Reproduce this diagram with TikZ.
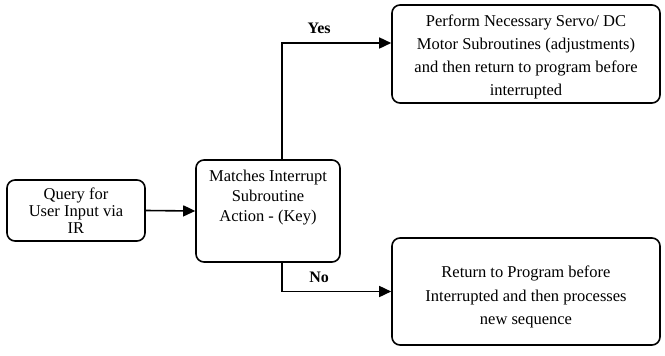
\documentclass[tikz,border=0pt]{standalone}
\usepackage{fontspec}
\setmainfont{Liberation Serif}
\usetikzlibrary{arrows.meta,positioning}
\tikzset{
  block/.style={draw,line width=1.6pt,rounded corners=8pt,align=center,inner sep=2pt},
  arrow/.style={-{Triangle[length=12pt,width=11pt]},line width=1.6pt},
  branch/.style={font=\fontsize{16}{18}\selectfont\bfseries}
}
\begin{document}
\begin{tikzpicture}[x=1pt,y=-1pt]
\useasboundingbox (0,0) rectangle (665,356);
\node[block,minimum width=138pt,minimum height=61pt,font=\fontsize{16.5}{17}\selectfont] (query) at (76,210.5) {Query for\\User Input via\\IR};
\node[block,minimum width=144pt,minimum height=102pt,text depth=30pt,font=\fontsize{16.5}{20}\selectfont] (match) at (268,211) {Matches Interrupt\\Subroutine\\Action - (Key)};
\node[block,minimum width=268pt,minimum height=98pt,text height=87pt,font=\fontsize{16.5}{23}\selectfont] (servo) at (526,54) {Perform Necessary Servo/ DC\\Motor Subroutines (adjustments)\\and then return to program before\\interrupted};
\node[block,minimum width=268pt,minimum height=107pt,text height=70pt,font=\fontsize{16.5}{23.5}\selectfont] (back) at (526,291.5) {Return to Program before\\Interrupted and then processes\\new sequence};
\coordinate (yes) at ([yshift=11pt]servo.west);
\draw[arrow] (query.east) -- (match.west);
\draw[arrow] ([xshift=14pt]match.north) |- node[branch,pos=0.67,above=5pt] {Yes} (yes);
\draw[arrow] ([xshift=14pt]match.south) |- node[branch,pos=0.67,above=5pt] {No} (back.west);
\end{tikzpicture}
\end{document}
